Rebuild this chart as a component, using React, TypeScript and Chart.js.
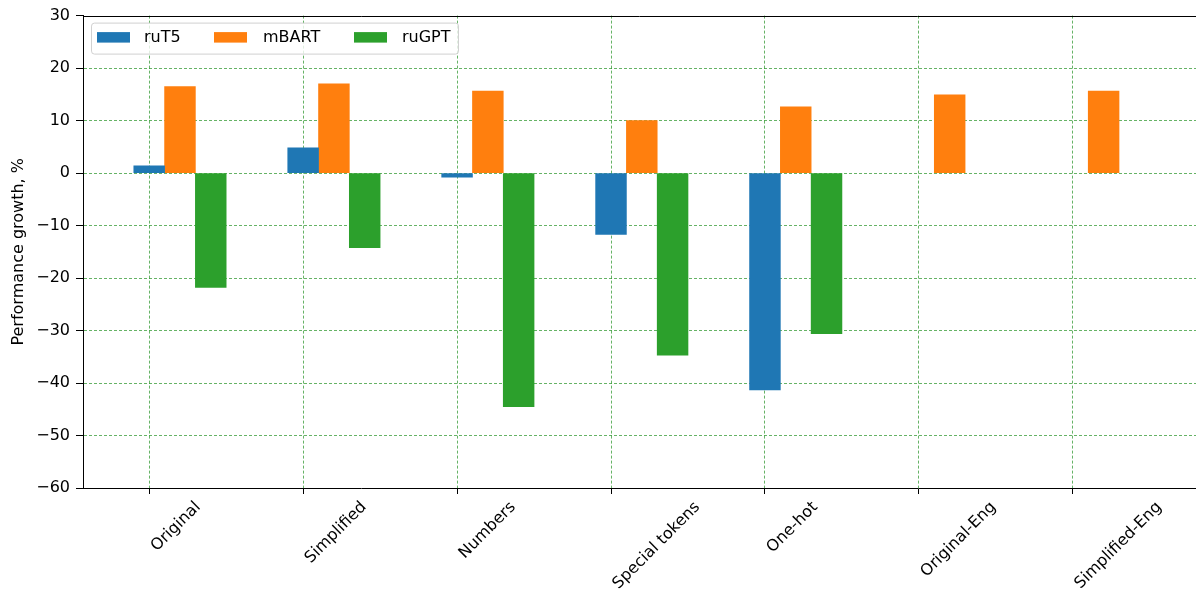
import React, { useEffect, useRef } from 'react';
import { Chart, registerables } from 'chart.js';

Chart.register(...registerables);

const categories = ['Original', 'Simplified', 'Numbers', 'Special tokens', 'One-hot', 'Original-Eng', 'Simplified-Eng'];
const seriesNames = ['ruT5', 'mBART', 'ruGPT'];
const ruT5 = [1.4, 4.8, -0.8, -11.7, -41.3, null, null];
const mBART = [16.5, 17.0, 15.6, 10.0, 12.6, 14.9, 15.6];
const ruGPT = [-21.8, -14.2, -44.5, -34.7, -30.6, null, null];
const yTickValues = [-60, -50, -40, -30, -20, -10, 0, 10, 20, 30];
const yTitle = 'Performance growth, %';

const seriesValues = [ruT5, mBART, ruGPT];
const seriesColors = ['#1f77b4', '#ff7f0e', '#2ca02c'];

const FS = 16;
const FONT = `${FS}px "DejaVu Sans"`;
const GRID = 'rgba(0,128,0,0.6)';
const BAR_W = 0.2;

const fmt = (v: number) => (v < 0 ? '\u2212' + Math.abs(v) : String(v));

const overlay = {
  id: 'overlay',
  afterDraw(chart: any) {
    const { ctx, chartArea: ca, scales } = chart;
    const xs = scales.x;
    ctx.save();
    // top spine
    ctx.strokeStyle = '#000';
    ctx.lineWidth = 1;
    ctx.setLineDash([]);
    ctx.beginPath();
    ctx.moveTo(ca.left, Math.round(ca.top) + 0.5);
    ctx.lineTo(ca.right, Math.round(ca.top) + 0.5);
    ctx.stroke();

    // rotated category labels (matplotlib ha='left' style)
    ctx.font = FONT;
    ctx.fillStyle = '#000';
    ctx.textAlign = 'left';
    ctx.textBaseline = 'alphabetic';
    const s = Math.SQRT1_2;
    const asc = 0.76 * FS;
    const top = ca.bottom + 11;
    categories.forEach((c, i) => {
      const px = xs.getPixelForValue(i);
      const w = ctx.measureText(c).width;
      const ox = px + s * asc - 1;
      const oy = top + s * w + s * asc;
      ctx.save();
      ctx.translate(ox, oy);
      ctx.rotate(-Math.PI / 4);
      ctx.fillText(c, 0, 0);
      ctx.restore();
    });

    // y title
    ctx.save();
    ctx.translate(18.7, (ca.top + ca.bottom) / 2);
    ctx.rotate(-Math.PI / 2);
    ctx.textAlign = 'center';
    ctx.textBaseline = 'middle';
    ctx.fillText(yTitle, 0, 0);
    ctx.restore();

    // legend
    const lx = ca.left + 8.5;
    const ly = ca.top + 7.5;
    const lw = 367;
    const lh = 31;
    ctx.beginPath();
    ctx.roundRect(lx, ly, lw, lh, 3);
    ctx.fillStyle = 'rgba(255,255,255,0.8)';
    ctx.fill();
    ctx.strokeStyle = 'rgba(204,204,204,0.9)';
    ctx.lineWidth = 1;
    ctx.stroke();
    const patchX = [97, 214, 354];
    const textX = [144, 263, 402];
    seriesNames.forEach((n, k) => {
      ctx.fillStyle = seriesColors[k];
      ctx.fillRect(patchX[k], ly + 9, 33, 10.5);
      ctx.fillStyle = '#000';
      ctx.textAlign = 'left';
      ctx.textBaseline = 'middle';
      ctx.fillText(n, textX[k], ly + 14.5);
    });
    ctx.restore();
  },
};

export default function App() {
  const ref = useRef<HTMLCanvasElement>(null);
  useEffect(() => {
    document.body.style.margin = '0';
    const canvas = ref.current;
    if (!canvas) return;
    const chart = new Chart(canvas, {
      type: 'bar',
      data: {
        datasets: seriesNames.map((name, k) => ({
          label: name,
          data: seriesValues[k].map((v, i) => ({ x: i + k * BAR_W, y: v })),
          backgroundColor: seriesColors[k],
          borderWidth: 0,
          grouped: false,
          categoryPercentage: 1,
          barPercentage: 1,
        })),
      },
      options: {
        responsive: false,
        animation: false,
        devicePixelRatio: 1,
        layout: { padding: { top: 14, left: 0, right: 0, bottom: 0 } },
        plugins: { legend: { display: false }, tooltip: { enabled: false }, title: { display: false } },
        scales: {
          x: {
            type: 'linear',
            min: -0.43,
            max: 6.8,
            bounds: 'data',
            offset: false,
            z: 1,
            afterBuildTicks: (sc: any) => {
              sc.ticks = categories.map((_, i) => ({ value: i }));
            },
            ticks: { display: false },
            grid: {
              offset: false,
              color: GRID,
              lineWidth: 1,
              tickColor: '#000',
              tickLength: 6,
              tickWidth: 1,
              tickBorderDash: [],
            },
            border: { display: true, color: '#000', width: 1, dash: [3, 2] },
            afterFit: (sc: any) => {
              sc.height = 106;
            },
          },
          y: {
            min: yTickValues[0],
            max: yTickValues[yTickValues.length - 1],
            bounds: 'data',
            z: 1,
            afterBuildTicks: (sc: any) => {
              sc.ticks = yTickValues.map((v) => ({ value: v }));
            },
            ticks: {
              color: '#000',
              font: { family: 'DejaVu Sans', size: FS },
              padding: 6,
              callback: (v: any) => fmt(Number(v)),
            },
            grid: {
              color: (c: any) =>
                c.tick && (c.tick.value === yTickValues[0] || c.tick.value === yTickValues[yTickValues.length - 1])
                  ? 'rgba(0,0,0,0)'
                  : GRID,
              lineWidth: 1,
              tickColor: '#000',
              tickLength: 7,
              tickWidth: 1,
              tickBorderDash: [],
            },
            border: { display: true, color: '#000', width: 1, dash: [3, 2] },
            afterFit: (sc: any) => {
              sc.width = 83;
            },
          },
        },
      },
      plugins: [overlay],
    } as any);
    return () => chart.destroy();
  }, []);
  return <canvas ref={ref} width={1196} height={594} style={{ display: 'block' }} />;
}
